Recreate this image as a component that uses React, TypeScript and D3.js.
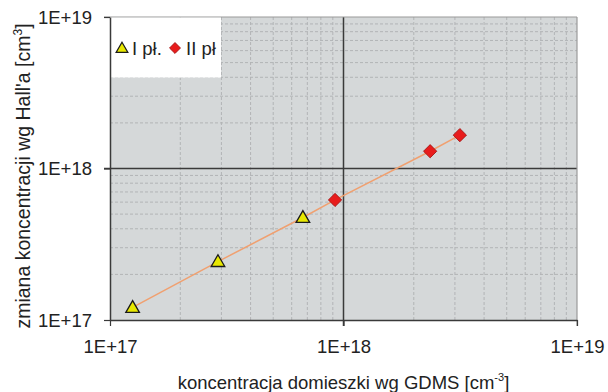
import React, { useEffect, useRef } from "react";
import * as d3 from "d3";

// Series I pł. (triangles) and II pł. (diamonds), values in cm^-3
const gdms1 = [1.25e17, 2.9e17, 6.7e17];
const hall1 = [1.21e17, 2.43e17, 4.75e17];
const gdms2 = [9.2e17, 2.35e18, 3.15e18];
const hall2 = [6.2e17, 1.3e18, 1.66e18];
const majorTicks = [1e17, 1e18, 1e19];
const tickLabels = ["1E+17", "1E+18", "1E+19"];
const legendLabels = ["I pł.", "II pł"];

const W = 608;
const H = 392;
const FONT = "Liberation Sans, Arial, sans-serif";

const App: React.FC = () => {
  const svgRef = useRef<SVGSVGElement | null>(null);

  useEffect(() => {
    if (!svgRef.current) return;
    const svg = d3.select(svgRef.current);
    svg.selectAll("*").remove();

    const margin = { top: 17, right: 31, bottom: 72, left: 110 };
    const iw = W - margin.left - margin.right;
    const ih = H - margin.top - margin.bottom;

    const x = d3.scaleLog().domain([1e17, 1e19]).range([0, iw]);
    const y = d3.scaleLog().domain([1e17, 1e19]).range([ih, 0]);

    const g = svg.append("g").attr("transform", `translate(${margin.left},${margin.top})`);

    // plot background
    g.append("rect").attr("width", iw).attr("height", ih).attr("fill", "#d5d8d9");

    // minor grid
    const minors: number[] = [];
    [1e17, 1e18].forEach(dec => {
      for (let k = 2; k <= 9; k++) minors.push(dec * k);
    });
    g.selectAll(".vminor").data(minors).join("line")
      .attr("x1", d => x(d)).attr("x2", d => x(d))
      .attr("y1", 0).attr("y2", ih)
      .attr("stroke", "#b2b4b6").attr("stroke-dasharray", "3,2").attr("stroke-width", 1);
    g.selectAll(".hminor").data(minors).join("line")
      .attr("y1", d => y(d)).attr("y2", d => y(d))
      .attr("x1", 0).attr("x2", iw)
      .attr("stroke", "#b2b4b6").attr("stroke-dasharray", "3,2").attr("stroke-width", 1);

    // major grid at 1E+18
    g.append("line").attr("x1", x(1e18)).attr("x2", x(1e18)).attr("y1", 0).attr("y2", ih + 6)
      .attr("stroke", "#3a3a3a").attr("stroke-width", 1.5);
    g.append("line").attr("y1", y(1e18)).attr("y2", y(1e18)).attr("x1", -6).attr("x2", iw)
      .attr("stroke", "#3a3a3a").attr("stroke-width", 1.5);

    // top / right border
    g.append("line").attr("x1", -6).attr("x2", iw).attr("y1", 0).attr("y2", 0)
      .attr("stroke", "#9a9a9a").attr("stroke-width", 1.2);
    g.append("line").attr("x1", iw).attr("x2", iw).attr("y1", 0).attr("y2", ih + 6)
      .attr("stroke", "#9a9a9a").attr("stroke-width", 1.2);

    // legend box
    g.append("rect").attr("x", 0).attr("y", 0.6).attr("width", 111).attr("height", 60).attr("fill", "#ffffff");

    // axes
    const fmt = (d: d3.NumberValue) => tickLabels[majorTicks.indexOf(+d)] ?? "";
    const xAxis = g.append("g").attr("transform", `translate(0,${ih})`)
      .call(d3.axisBottom(x).tickValues(majorTicks).tickFormat(fmt).tickSize(6).tickSizeOuter(0));
    const yAxis = g.append("g")
      .call(d3.axisLeft(y).tickValues(majorTicks).tickFormat(fmt).tickSize(6).tickSizeOuter(0));
    [xAxis, yAxis].forEach(a => {
      a.attr("font-size", null).attr("font-family", null);
      a.select(".domain").attr("stroke", "#3a3a3a").attr("stroke-width", 1.5);
      a.selectAll(".tick line").attr("stroke", "#3a3a3a").attr("stroke-width", 1.2);
      a.selectAll(".tick text").attr("fill", "#222").style("font-family", FONT).style("font-size", "18.5px");
    });
    xAxis.selectAll(".tick text").attr("y", 20).attr("dy", "0.71em");
    yAxis.selectAll(".tick text").attr("x", -18).attr("dy", "0.34em");

    // connecting line through all points
    const all = gdms1.map((v, i) => [v, hall1[i]]).concat(gdms2.map((v, i) => [v, hall2[i]]));
    g.append("path")
      .attr("d", d3.line<number[]>().x(d => x(d[0])).y(d => y(d[1]))(all))
      .attr("fill", "none").attr("stroke", "#f0a070").attr("stroke-width", 1.5);

    const tri = d3.symbol().type(d3.symbolTriangle).size(80);
    const dia = d3.symbol().type(d3.symbolSquare).size(88);

    g.selectAll(".s1").data(gdms1).join("path")
      .attr("d", tri)
      .attr("transform", (d, i) => `translate(${x(d)},${y(hall1[i]) + 1})`)
      .attr("fill", "#e8e800").attr("stroke", "#1a1a1a").attr("stroke-width", 1.3);
    g.selectAll(".s2").data(gdms2).join("path")
      .attr("d", dia)
      .attr("transform", (d, i) => `translate(${x(d)},${y(hall2[i])}) rotate(45)`)
      .attr("fill", "#e81c1c").attr("stroke", "#a01010").attr("stroke-width", 0.8);

    // legend items
    const lg = g.append("g").attr("transform", "translate(0,31)");
    lg.append("path").attr("d", d3.symbol().type(d3.symbolTriangle).size(60)).attr("transform", "translate(12,1)")
      .attr("fill", "#e8e800").attr("stroke", "#1a1a1a").attr("stroke-width", 1.2);
    lg.append("text").attr("x", 22).attr("y", 7).text(legendLabels[0])
      .style("font-family", FONT).style("font-size", "18.5px").attr("fill", "#222");
    lg.append("path").attr("d", d3.symbol().type(d3.symbolSquare).size(60)).attr("transform", "translate(65,0) rotate(45)")
      .attr("fill", "#e81c1c").attr("stroke", "#a01010").attr("stroke-width", 0.8);
    lg.append("text").attr("x", 76).attr("y", 7).text(legendLabels[1])
      .style("font-family", FONT).style("font-size", "18.5px").attr("fill", "#222");

    // axis titles
    const xt = svg.append("text").attr("x", margin.left + iw / 2).attr("y", 389).attr("text-anchor", "middle")
      .style("font-family", FONT).style("font-size", "18.5px").attr("fill", "#222");
    xt.append("tspan").text("koncentracja domieszki wg GDMS [cm");
    xt.append("tspan").attr("dy", -8).style("font-size", "11px").text("-3");
    xt.append("tspan").attr("dy", 8).text("]");

    const yt = svg.append("text").attr("transform", `translate(30,176) rotate(-90)`)
      .attr("text-anchor", "middle")
      .style("font-family", FONT).style("font-size", "19.5px").attr("fill", "#222");
    yt.append("tspan").text("zmiana koncentracji wg Hall'a [cm");
    yt.append("tspan").attr("dy", -8).style("font-size", "12px").text("3");
    yt.append("tspan").attr("dy", 8).text("]");
  }, []);

  return (
    <div style={{ position: "absolute", left: 0, top: 0, width: W, height: H, background: "#fff" }}>
      <svg ref={svgRef} width={W} height={H} style={{ display: "block" }}></svg>
    </div>
  );
};

export default App;
